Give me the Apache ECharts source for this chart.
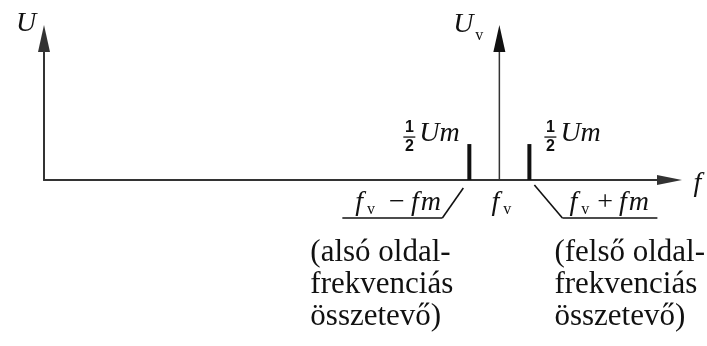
<!DOCTYPE html>
<html>
<head>
<meta charset="utf-8">
<script src="https://cdn.jsdelivr.net/npm/echarts@6/dist/echarts.min.js"></script>
<style>
html,body{margin:0;padding:0;background:#fff;}
#c{width:707px;height:346px;}
</style>
</head>
<body>
<div id="c"></div>
<script>
// ---- data ----
const carrierFreq = 72.8;          // f_v position on the frequency axis
const modFreq = 4.8;               // f_m spacing
const sidebandFreqs = [carrierFreq - modFreq, carrierFreq + modFreq];
const sidebandAmps = [0.254, 0.254]; // 1/2 U_m
const carrierAmp = 1;              // U_v (drawn as an axis-like arrow)
const xRange = [0, 100];
const yRange = [0, 1];
const lowerLabel = ['(alsó oldal-', 'frekvenciás', 'összetevő)'];
const upperLabel = ['(felső oldal-', 'frekvenciás', 'összetevő)'];

const chart = echarts.init(document.getElementById('c'), null, {renderer: 'canvas'});
const ink = '#111';
const axisInk = '#333';

chart.setOption({
  animation: false,
  backgroundColor: '#fff',
  grid: {left: 44, right: 37.5, top: 38.5, bottom: 166},
  xAxis: {
    type: 'value', min: xRange[0], max: xRange[1],
    axisLine: {show: true, onZero: false, symbol: ['none', 'triangle'], symbolSize: [10, 25],
      lineStyle: {color: axisInk, width: 2}},
    axisTick: {show: false}, axisLabel: {show: false}, splitLine: {show: false}
  },
  yAxis: {
    type: 'value', min: yRange[0], max: yRange[1],
    axisLine: {show: true, onZero: false, symbol: ['none', 'triangle'], symbolSize: [12, 27],
      lineStyle: {color: axisInk, width: 2}},
    axisTick: {show: false}, axisLabel: {show: false}, splitLine: {show: false}
  },
  series: [
    {
      type: 'bar', barWidth: 4,
      data: sidebandFreqs.map((f, i) => [f, sidebandAmps[i]]),
      itemStyle: {color: ink}
    },
    {
      type: 'line',
      data: [
        {value: [carrierFreq, 0], symbol: 'none'},
        {value: [carrierFreq, carrierAmp], symbol: 'triangle', symbolSize: [12, 27]}
      ],
      showSymbol: true,
      lineStyle: {color: axisInk, width: 1.5},
      itemStyle: {color: ink}
    }
  ]
});

const px = (x, y) => chart.convertToPixel({xAxisIndex: 0, yAxisIndex: 0}, [x, y]);
const p0 = px(xRange[0], 0);
const pTop = px(xRange[0], yRange[1]);
const pEnd = px(xRange[1], 0);
const pC = px(carrierFreq, 0);
const pL = px(sidebandFreqs[0], sidebandAmps[0]);
const pR = px(sidebandFreqs[1], sidebandAmps[1]);

const IT = 'italic 28px "Liberation Serif"';
const SUB = '16px "Liberation Serif"';
const FR = 'bold 16px "Liberation Sans"';
const BODY = '31px "Liberation Serif"';

function txt(text, x, y, font, align, valign) {
  return {type: 'text', silent: true, style: {text, x, y, font, fill: ink,
    textAlign: align || 'left', textVerticalAlign: valign || 'middle'}};
}
function seg(x1, y1, x2, y2, w) {
  return {type: 'line', silent: true, shape: {x1, y1, x2, y2},
    style: {stroke: ink, lineWidth: w || 1.6}};
}
function rich(parts, x, y, align, subPad) {
  return {type: 'text', silent: true, style: {
    text: parts, x, y, textAlign: align || 'left', textVerticalAlign: 'middle', fill: ink,
    rich: {
      f: {font: IT, lineHeight: 30, fill: ink, padding: [0, 4, 0, 0]},
      g: {font: IT, lineHeight: 30, fill: ink, padding: [0, 2, 0, 0]},
      i: {font: IT, lineHeight: 30, fill: ink},
      s: {font: SUB, lineHeight: 16, verticalAlign: 'bottom', fill: ink, padding: [0, subPad || 0, 0, 0]},
      o: {font: '28px "Liberation Serif"', lineHeight: 30, fill: ink, padding: [0, 6, 0, 0]}
    }
  }};
}
function half(cx, cy) {
  return [
    txt('1', cx, cy - 9, FR, 'center'),
    seg(cx - 6, cy, cx + 6, cy, 1.3),
    txt('2', cx, cy + 10, FR, 'center')
  ];
}

const g = [];
// axis titles
g.push(txt('U', pTop[0] - 18, pTop[1] - 15, IT, 'center'));
g.push(txt('U', pC[0] - 36, pTop[1] - 14, IT, 'center'));
g.push(txt('v', pC[0] - 20, pTop[1] - 3, SUB, 'center'));
g.push(txt('f', pEnd[0] + 28, pEnd[1] + 4, IT, 'center'));
// 1/2 Um labels
g.push(...half(pL[0] - 60, pL[1] - 7));
g.push(txt('Um', pL[0] - 50, pL[1] - 10, IT, 'left'));
g.push(...half(pR[0] + 21, pR[1] - 7));
g.push(txt('Um', pR[0] + 31, pR[1] - 10, IT, 'left'));
// frequency labels
g.push(rich('{f|f}{s|v}{o|−}{g|f}{i|m}', pL[0] - 114, p0[1] + 23, 'left', 14));
g.push(seg(pL[0] - 127, p0[1] + 38, pL[0] - 27, p0[1] + 38));
g.push(seg(pL[0] - 27, p0[1] + 38, pL[0] - 6, p0[1] + 8));
g.push(rich('{f|f}{s|v}', pC[0] + 2, p0[1] + 23, 'center', 0));
g.push(rich('{f|f}{s|v}{o|+}{g|f}{i|m}', pR[0] + 40, p0[1] + 23, 'left', 8));
g.push(seg(pR[0] + 5, p0[1] + 5, pR[0] + 33, p0[1] + 38));
g.push(seg(pR[0] + 33, p0[1] + 38, pR[0] + 128, p0[1] + 38));
// bottom descriptions
g.push({type: 'text', silent: true, style: {text: lowerLabel.join('\n'), x: pL[0] - 159, y: p0[1] + 57,
  font: BODY, lineHeight: 32, fill: ink, textAlign: 'left', textVerticalAlign: 'top'}});
g.push({type: 'text', silent: true, style: {text: upperLabel.join('\n'), x: pR[0] + 25, y: p0[1] + 57,
  font: BODY, lineHeight: 32, fill: ink, textAlign: 'left', textVerticalAlign: 'top'}});

chart.setOption({graphic: {elements: g}});
</script>
</body>
</html>
